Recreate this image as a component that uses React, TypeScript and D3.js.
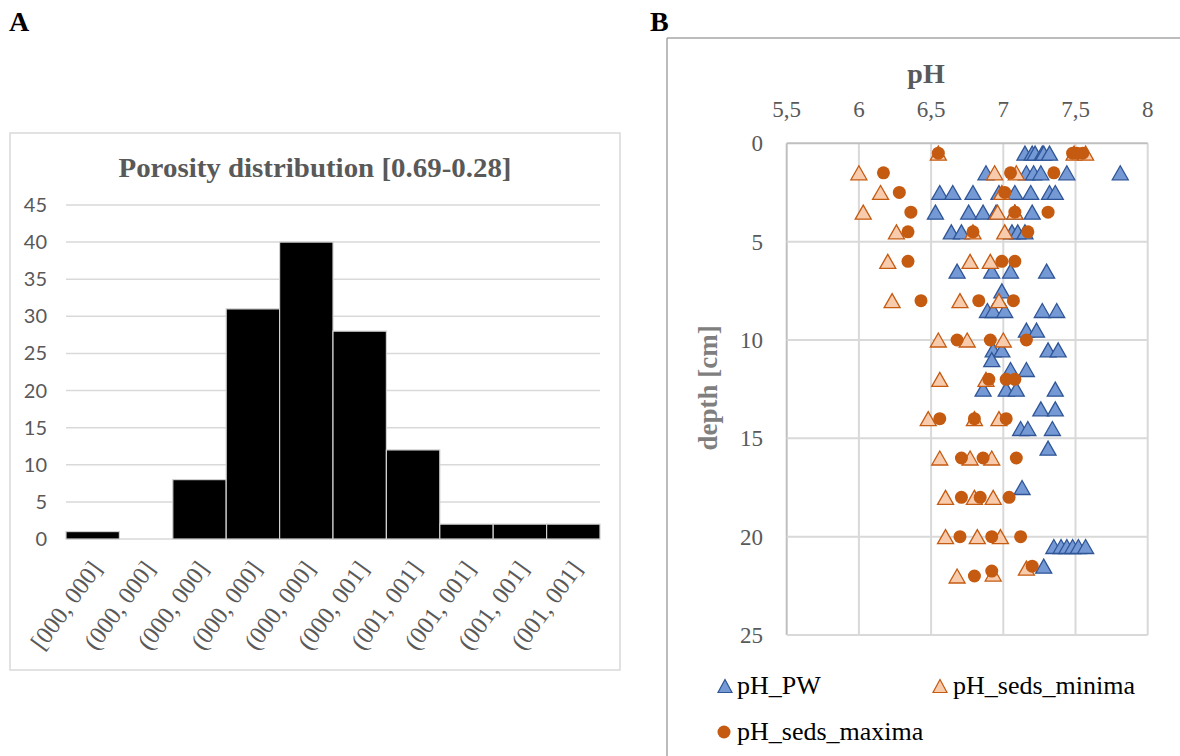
import React from 'react';
import * as d3 from 'd3';

// ---------- Panel A data ----------
const binLabels = [
  '[000, 000]', '(000, 000]', '(000, 000]', '(000, 000]', '(000, 000]',
  '(000, 001]', '(001, 001]', '(001, 001]', '(001, 001]', '(001, 001]',
];
const binCounts = [1, 0, 8, 31, 40, 28, 12, 2, 2, 2];
const countTicks = [0, 5, 10, 15, 20, 25, 30, 35, 40, 45];
const histTitle = 'Porosity distribution [0.69-0.28]';

// ---------- Panel B data ([pH, depth cm]) ----------
const phTicks = [5.5, 6, 6.5, 7, 7.5, 8];
const depthTicks = [0, 5, 10, 15, 20, 25];

const pHPW: [number, number][] = [
  [7.15, 0.5], [7.2, 0.5], [7.22, 0.5], [7.27, 0.5], [7.28, 0.5], [7.32, 0.5],
  [6.88, 1.5], [7.16, 1.5], [7.21, 1.5], [7.26, 1.5], [7.44, 1.5], [7.81, 1.5],
  [6.56, 2.5], [6.65, 2.5], [6.79, 2.5], [6.97, 2.5], [7.08, 2.5], [7.19, 2.5], [7.32, 2.5], [7.36, 2.5],
  [6.53, 3.5], [6.76, 3.5], [6.86, 3.5], [6.95, 3.5], [7.08, 3.5], [7.2, 3.5],
  [6.64, 4.5], [6.71, 4.5], [7.06, 4.5], [7.1, 4.5], [7.15, 4.5],
  [6.68, 6.5], [6.92, 6.5], [7.05, 6.5], [7.3, 6.5],
  [6.99, 7.5],
  [6.89, 8.5], [6.93, 8.5], [7.01, 8.5], [7.27, 8.5], [7.37, 8.5],
  [7.16, 9.5], [7.23, 9.5],
  [6.93, 10.5], [6.99, 10.5], [7.31, 10.5], [7.38, 10.5],
  [6.92, 11],
  [7.05, 11.5], [7.16, 11.5],
  [6.86, 12.5], [7.02, 12.5], [7.09, 12.5], [7.36, 12.5],
  [7.26, 13.5], [7.36, 13.5],
  [7.12, 14.5], [7.17, 14.5], [7.34, 14.5],
  [7.31, 15.5],
  [7.13, 17.5],
  [7.35, 20.5], [7.4, 20.5], [7.44, 20.5], [7.48, 20.5], [7.52, 20.5], [7.57, 20.5],
  [7.28, 21.5],
];

const pHSedsMinima: [number, number][] = [
  [6.55, 0.5], [7.49, 0.5], [7.57, 0.5],
  [6.0, 1.5], [6.94, 1.5], [7.09, 1.5],
  [6.15, 2.5], [6.99, 2.5],
  [6.03, 3.5], [6.96, 3.5], [7.08, 3.5],
  [6.26, 4.5], [6.79, 4.5], [7.01, 4.5],
  [6.2, 6], [6.77, 6], [6.91, 6],
  [6.23, 8], [6.7, 8], [6.97, 8],
  [6.55, 10], [6.75, 10], [7.0, 10],
  [6.56, 12], [6.88, 12],
  [6.48, 14], [6.8, 14], [6.97, 14],
  [6.56, 16], [6.77, 16], [6.92, 16],
  [6.6, 18], [6.8, 18], [6.93, 18],
  [6.6, 20], [6.82, 20], [6.98, 20],
  [7.16, 21.6], [6.93, 21.9], [6.68, 22],
];

const pHSedsMaxima: [number, number][] = [
  [6.55, 0.5], [7.48, 0.5], [7.51, 0.5], [7.55, 0.5],
  [6.17, 1.5], [7.05, 1.5], [7.35, 1.5],
  [6.28, 2.5], [7.01, 2.5],
  [6.36, 3.5], [7.08, 3.5], [7.31, 3.5],
  [6.34, 4.5], [6.79, 4.5], [7.17, 4.5],
  [6.34, 6], [6.99, 6], [7.08, 6],
  [6.43, 8], [6.83, 8], [7.07, 8],
  [6.68, 10], [6.91, 10], [7.16, 10],
  [6.9, 12], [7.02, 12], [7.08, 12],
  [6.56, 14], [6.8, 14], [7.02, 14],
  [6.71, 16], [6.86, 16], [7.09, 16],
  [6.71, 18], [6.84, 18], [7.04, 18],
  [6.7, 20], [6.92, 20], [7.12, 20],
  [7.2, 21.5], [6.92, 21.75], [6.8, 22],
];

const seriesNames = ['pH_PW', 'pH_seds_minima', 'pH_seds_maxima'];

const PW_FILL = '#7499d4';
const PW_STROKE = '#2f5597';
const MIN_FILL = '#f8cbad';
const MIN_STROKE = '#c55a11';
const MAX_FILL = '#c55a11';

const SERIF = '"Liberation Serif", "Times New Roman", serif';
const SANS = 'Lato, "Open Sans", sans-serif';

function tri(cx: number, cy: number, w: number, h: number) {
  const p = d3.path();
  p.moveTo(cx, cy - h / 2);
  p.lineTo(cx + w / 2, cy + h / 2);
  p.lineTo(cx - w / 2, cy + h / 2);
  p.closePath();
  return p.toString();
}

export default function App() {
  // Panel A scales
  const xA = d3.scaleBand<number>().domain(d3.range(binCounts.length)).range([66, 600]).padding(0);
  const yA = d3.scaleLinear().domain([0, 45]).range([539, 205]);

  // Panel B scales
  const xB = d3.scaleLinear().domain([5.5, 8]).range([786.7, 1147.7]);
  const yB = d3.scaleLinear().domain([0, 25]).range([143.3, 635]);

  const fmt = (v: number) => String(v).replace('.', ',');

  return (
    <svg width={1180} height={756} style={{ position: 'absolute', left: 0, top: 0, background: '#fff' }}>
      {/* Panel labels */}
      <text x={9} y={31} fontFamily={SERIF} fontWeight="bold" fontSize={28} fill="#000">A</text>
      <text x={650} y={31} fontFamily={SERIF} fontWeight="bold" fontSize={28} fill="#000">B</text>

      {/* ---------- Panel A ---------- */}
      <rect x={10} y={133} width={610} height={537} fill="#fff" stroke="#d9d9d9" strokeWidth={1.5} />
      <text x={315} y={177} textAnchor="middle" fontFamily={SERIF} fontWeight="bold" fontSize={28}
        fill="#595959" textLength={393} lengthAdjust="spacingAndGlyphs">{histTitle}</text>
      {countTicks.map((t) => (
        <g key={'ga' + t}>
          <line x1={66} x2={600} y1={yA(t)} y2={yA(t)} stroke="#d9d9d9" strokeWidth={1.5} />
          <text x={47} y={yA(t)} dy="0.35em" textAnchor="end" fontFamily={SANS} fontSize={20} fill="#595959">{t}</text>
        </g>
      ))}
      {binCounts.map((c, i) => (
        c > 0 ? (
          <rect key={'bar' + i} x={xA(i)!} y={yA(c)} width={xA.bandwidth()} height={yA(0) - yA(c)}
            fill="#000" stroke="#d0d0d0" strokeWidth={1.2} />
        ) : null
      ))}
      {binLabels.map((l, i) => {
        const cx = xA(i)! + xA.bandwidth() / 2 + 10;
        return (
          <text key={'xl' + i} transform={`translate(${cx},${569}) rotate(-54)`} textAnchor="end"
            fontFamily={SERIF} fontSize={24.5} fill="#595959">{l}</text>
        );
      })}

      {/* ---------- Panel B ---------- */}
      <line x1={667} x2={667} y1={38} y2={756} stroke="#a6a6a6" strokeWidth={1.5} />
      <line x1={667} x2={1180} y1={38} y2={38} stroke="#a6a6a6" strokeWidth={1.5} />

      <text x={926} y={83} textAnchor="middle" fontFamily={SERIF} fontWeight="bold" fontSize={28} fill="#595959">pH</text>
      {phTicks.map((t) => (
        <g key={'gx' + t}>
          <line x1={xB(t)} x2={xB(t)} y1={yB(0)} y2={yB(25)} stroke={t === 5.5 ? '#bfbfbf' : '#d9d9d9'} strokeWidth={2} />
          <text x={xB(t)} y={117} textAnchor="middle" fontFamily={SERIF} fontSize={23} fill="#595959">{fmt(t)}</text>
        </g>
      ))}
      {depthTicks.map((t) => (
        <g key={'gy' + t}>
          <line x1={xB(5.5)} x2={xB(8)} y1={yB(t)} y2={yB(t)} stroke={t === 0 ? '#bfbfbf' : '#d9d9d9'} strokeWidth={2} />
          <text x={763} y={yB(t)} dy="0.35em" textAnchor="end" fontFamily={SERIF} fontSize={23} fill="#595959">{t}</text>
        </g>
      ))}
      <text transform={`translate(717,388) rotate(-90)`} textAnchor="middle" fontFamily={SERIF} fontWeight="bold"
        fontSize={27} fill="#7f7f7f">depth [cm]</text>

      {/* markers */}
      {pHPW.map(([p, d], i) => (
        <path key={'pw' + i} d={tri(xB(p), yB(d), 16, 14)} fill={PW_FILL} stroke={PW_STROKE} strokeWidth={1.3} />
      ))}
      {pHSedsMinima.map(([p, d], i) => (
        <path key={'mn' + i} d={tri(xB(p), yB(d), 16, 14)} fill={MIN_FILL} stroke={MIN_STROKE} strokeWidth={1.3} />
      ))}
      {pHSedsMaxima.map(([p, d], i) => (
        <circle key={'mx' + i} cx={xB(p)} cy={yB(d)} r={6.5} fill={MAX_FILL} />
      ))}

      {/* legend */}
      <path d={tri(725, 686, 14, 13)} fill={PW_FILL} stroke={PW_STROKE} strokeWidth={1.2} />
      <text x={737} y={694} fontFamily={SERIF} fontSize={26} fill="#000">{seriesNames[0]}</text>
      <path d={tri(940, 686, 14, 13)} fill={MIN_FILL} stroke={MIN_STROKE} strokeWidth={1.2} />
      <text x={953} y={694} fontFamily={SERIF} fontSize={26} fill="#000">{seriesNames[1]}</text>
      <circle cx={724} cy={732} r={6.5} fill={MAX_FILL} />
      <text x={737} y={740} fontFamily={SERIF} fontSize={26} fill="#000">{seriesNames[2]}</text>
    </svg>
  );
}
